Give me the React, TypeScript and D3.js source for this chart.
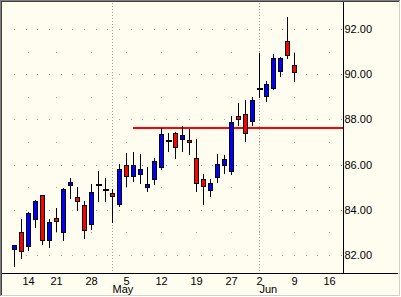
import React from 'react';
import * as d3 from 'd3';

// Trading days (2003), including empty future days on the right of the axis
const days: string[] = [
  '2003-04-10', '2003-04-11', '2003-04-14', '2003-04-15', '2003-04-16', '2003-04-17',
  '2003-04-21', '2003-04-22', '2003-04-23', '2003-04-24', '2003-04-25',
  '2003-04-28', '2003-04-29', '2003-04-30', '2003-05-01', '2003-05-02',
  '2003-05-05', '2003-05-06', '2003-05-07', '2003-05-08', '2003-05-09',
  '2003-05-12', '2003-05-13', '2003-05-14', '2003-05-15', '2003-05-16',
  '2003-05-19', '2003-05-20', '2003-05-21', '2003-05-22', '2003-05-23',
  '2003-05-27', '2003-05-28', '2003-05-29', '2003-05-30',
  '2003-06-02', '2003-06-03', '2003-06-04', '2003-06-05', '2003-06-06',
  '2003-06-09', '2003-06-10', '2003-06-11', '2003-06-12', '2003-06-13',
  '2003-06-16', '2003-06-17', '2003-06-18', '2003-06-19', '2003-06-20',
];

const opens: number[] = [
  82.28, 83.02, 82.39, 83.58, 84.66, 82.65, 83.63, 83.01, 85.11, 84.56,
  84.22, 83.39, 85.11, 84.89, 84.75, 84.25, 85.97, 85.49, 85.58, 85.01,
  85.35, 85.91, 87.05, 87.39, 87.15, 87.10, 86.28, 85.35, 84.87, 85.44,
  85.97, 85.70, 88.15, 88.25, 87.95, 89.35, 89.03, 89.41, 90.14, 91.47,
  90.40,
];
const highs: number[] = [
  82.46, 83.60, 83.90, 84.44, 84.66, 83.60, 84.07, 84.97, 85.41, 85.01,
  84.39, 85.15, 85.72, 85.41, 84.92, 86.02, 86.52, 86.54, 86.47, 85.90,
  86.30, 87.61, 87.39, 87.46, 87.72, 87.58, 87.14, 85.60, 85.35, 86.46,
  86.43, 88.16, 88.73, 88.87, 88.99, 90.94, 89.70, 90.91, 90.74, 92.51,
  90.96,
];
const lows: number[] = [
  81.53, 81.88, 82.23, 83.23, 82.50, 82.37, 83.08, 82.68, 84.54, 84.01,
  82.77, 83.15, 84.41, 84.41, 83.46, 84.17, 85.07, 85.28, 85.17, 84.84,
  85.15, 85.80, 86.58, 86.31, 86.62, 86.49, 84.85, 84.25, 84.63, 85.25,
  85.61, 85.59, 87.76, 87.03, 87.76, 89.00, 88.82, 89.35, 89.90, 90.70,
  89.68,
];
const closes: number[] = [
  82.43, 82.16, 83.85, 84.38, 82.68, 83.45, 83.52, 84.91, 85.22, 84.41,
  83.12, 84.79, 85.11, 84.89, 84.60, 85.80, 85.49, 85.97, 85.81, 85.15,
  86.17, 87.35, 87.05, 86.80, 87.30, 86.99, 85.18, 85.04, 85.18, 86.02,
  86.23, 87.88, 88.00, 87.39, 88.85, 89.35, 89.55, 90.70, 90.70, 90.85,
  90.09,
];

const tickDates: string[] = [
  '2003-04-14', '2003-04-21', '2003-04-28', '2003-05-05', '2003-05-12',
  '2003-05-19', '2003-05-27', '2003-06-02', '2003-06-09', '2003-06-16',
];
const tickLabels: string[] = ['14', '21', '28', '5', '12', '19', '27', '2', '9', '16'];

const monthStarts: string[] = ['2003-05-01', '2003-06-02'];
const monthLabels: string[] = ['May', 'Jun'];

const priceTicks: number[] = [82, 84, 86, 88, 90, 92];
const priceGrid: number[] = [82, 83, 84, 85, 86, 87, 88, 89, 90, 91, 92];

const resistanceLevel = 87.64;
const resistanceStart = '2003-05-06';

const FONT = "'Liberation Sans', Arial, sans-serif";
const BG = '#FFFCF0';
const GRID = '#A0A0A0';

export default function App() {
  const W = 401, H = 297;
  const plotL = 2, plotR = 343, plotT = 2, plotB = 273;

  const x = d3.scaleLinear().domain([0, 40]).range([14, 294]);
  const y = d3.scaleLinear().domain([82, 92]).range([255, 29]);
  const xd = (d: string) => Math.round(x(days.indexOf(d)));
  const yr = (v: number) => Math.round(y(v));

  const tickXs = tickDates.map(xd);

  // dots for the major rows: every 1/3 week, anchored on a week tick
  const anchor = xd('2003-06-09');
  const step = 35 / 3;
  const majorDots: number[] = [];
  for (let k = -10; k < 40; k++) {
    const px = Math.round(anchor - k * step);
    if (px > plotL && px < plotR) majorDots.push(px);
  }

  const grid: React.ReactNode[] = [];
  priceGrid.forEach((v) => {
    const py = yr(v);
    const xs = v % 2 === 0 ? majorDots : tickXs;
    xs.forEach((px, j) => {
      grid.push(<rect key={`g${v}-${j}`} x={px} y={py} width={1} height={1} fill={GRID} />);
    });
  });
  monthStarts.forEach((d, mi) => {
    const px = xd(d);
    for (let py = plotT + 1; py < plotB; py += 3) {
      grid.push(<rect key={`m${mi}-${py}`} x={px} y={py} width={1} height={1} fill={GRID} />);
    }
  });

  const candles = opens.map((o, i) => {
    const c = closes[i];
    const cx = Math.round(x(i));
    const hy = yr(highs[i]);
    const ly = yr(lows[i]);
    const wick = (
      <line key="w" x1={cx + 0.5} x2={cx + 0.5} y1={hy} y2={ly + 1} stroke="#000" strokeWidth={1} />
    );
    if (Math.abs(o - c) < 0.005) {
      const py = yr(o);
      return (
        <g key={i}>
          {wick}
          <rect x={cx - 2} y={py - 1} width={6} height={2} fill="#000" />
        </g>
      );
    }
    const top = yr(Math.max(o, c));
    const bot = yr(Math.min(o, c));
    return (
      <g key={i}>
        {wick}
        <rect
          x={cx - 1.5}
          y={top + 0.5}
          width={4}
          height={Math.max(bot - top, 1)}
          fill={c > o ? '#0000FF' : '#FF0000'}
          stroke="#000"
          strokeWidth={1}
        />
      </g>
    );
  });

  return (
    <svg
      width={W}
      height={H}
      style={{ position: 'absolute', left: 0, top: 0, display: 'block' }}
      shapeRendering="crispEdges"
    >
      <rect x={0} y={0} width={W} height={H} fill={BG} />
      {grid}
      {/* resistance line */}
      <line
        x1={xd(resistanceStart)}
        x2={plotR}
        y1={y(resistanceLevel)}
        y2={y(resistanceLevel)}
        stroke="#FF0000"
        strokeWidth={2}
      />
      {candles}
      {/* axes */}
      <line x1={plotL} x2={398} y1={plotB + 0.5} y2={plotB + 0.5} stroke="#000" strokeWidth={1} />
      <line x1={plotR + 0.5} x2={plotR + 0.5} y1={plotT} y2={plotB} stroke="#000" strokeWidth={1} />
      {priceTicks.map((v) => (
        <text
          key={v}
          x={344.5}
          y={y(v) + 4}
          fontFamily={FONT}
          fontSize={11}
          fill="#000"
          textRendering="optimizeSpeed"
        >
          {v.toFixed(2)}
        </text>
      ))}
      {tickLabels.map((t, i) => (
        <text
          key={t + i}
          x={tickXs[i] + 0.5}
          y={285}
          textAnchor="middle"
          fontFamily={FONT}
          fontSize={11}
          fill="#000"
        >
          {t}
        </text>
      ))}
      {monthLabels.map((m, i) => (
        <text key={m} x={xd(monthStarts[i]) + 0.5} y={293} fontFamily={FONT} fontSize={11} fill="#000">
          {m}
        </text>
      ))}
      {/* sunken frame */}
      <rect x={0} y={0} width={W} height={1} fill="#808080" />
      <rect x={0} y={0} width={1} height={H} fill="#808080" />
      <rect x={1} y={1} width={W - 2} height={1} fill="#404040" />
      <rect x={1} y={1} width={1} height={H - 2} fill="#404040" />
      <rect x={W - 1} y={0} width={1} height={H} fill="#FFFFFF" />
      <rect x={0} y={H - 1} width={W} height={1} fill="#FFFFFF" />
      <rect x={W - 2} y={1} width={1} height={H - 2} fill="#D4D0C8" />
      <rect x={1} y={H - 2} width={W - 2} height={1} fill="#D4D0C8" />
    </svg>
  );
}
